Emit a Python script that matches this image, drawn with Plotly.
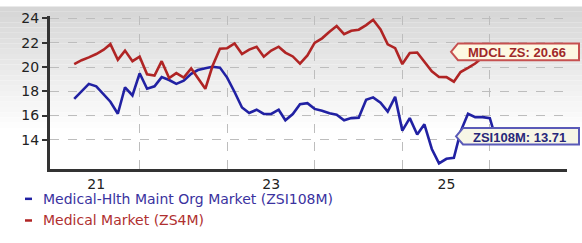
import plotly.graph_objects as go
import pandas as pd

# ---- data ----
months = pd.date_range("2020-10-01", "2025-08-01", freq="MS")

hmo_values = [17.38, 18.02, 18.61, 18.41, 17.74, 17.14, 16.15, 18.33, 17.66, 19.48,
              18.21, 18.41, 19.17, 18.93, 18.61, 18.87, 19.44, 19.75, 19.90, 20.02,
              19.95, 19.13, 17.94, 16.67, 16.21, 16.48, 16.13, 16.13, 16.48, 15.61,
              16.13, 16.94, 17.02, 16.55, 16.40, 16.19, 16.07, 15.61, 15.79, 15.83,
              17.30, 17.50, 17.06, 16.33, 17.54, 14.76, 15.79, 14.44, 15.28, 13.25,
              12.06, 12.44, 12.52, 14.68, 16.15, 15.87, 15.87, 15.79, 13.71]

medical_values = [20.24, 20.56, 20.79, 21.07, 21.43, 21.88, 20.60, 21.35, 20.48, 20.85,
                  19.40, 19.29, 20.48, 19.09, 19.50, 19.13, 19.88, 19.05, 18.20, 20.08,
                  21.51, 21.55, 21.94, 21.07, 21.43, 21.67, 20.85, 21.35, 21.67, 21.19,
                  20.87, 20.28, 20.95, 21.98, 22.36, 22.90, 23.37, 22.70, 22.98, 23.07,
                  23.45, 23.89, 23.10, 21.87, 21.55, 20.24, 21.15, 21.19, 20.40, 19.64,
                  19.18, 19.17, 18.79, 19.58, 19.92, 20.29, 20.80, 20.72, 20.66]

series_names = ["Medical-Hlth Maint Org Market (ZSI108M)", "Medical Market (ZS4M)"]
end_labels = ["ZSI108M", "MDCL ZS"]
year_ticks = ["2021-01-01", "2023-01-01", "2025-01-01"]
year_labels = ["21", "23", "25"]
grid_dates = ["2021-07-01", "2022-07-01", "2023-07-01", "2024-07-01", "2025-07-01"]
y_ticks = [14, 16, 18, 20, 22, 24]

BLUE = "#2121a3"
RED = "#b02424"

fig = go.Figure()
fig.add_trace(go.Scatter(x=months, y=hmo_values, mode="lines", name=series_names[0],
                         line=dict(color=BLUE, width=2.6), showlegend=False))
fig.add_trace(go.Scatter(x=months, y=medical_values, mode="lines", name=series_names[1],
                         line=dict(color=RED, width=2.6), showlegend=False))

W, H = 582, 243
L, R, T, B = 50, 567, 10, 169


def px(xp):
    return (xp - L) / (R - L)


def py(yp):
    return (B - yp) / (B - T)


shapes = []
# background gradient (top gray to white)
n = 24
for k in range(n):
    y0 = k * 5.5
    y1 = (k + 1) * 5.5
    c = int(0xd6 + (0xff - 0xd6) * k / (n - 1))
    shapes.append(dict(type="rect", xref="paper", yref="paper", layer="below",
                       x0=px(0), x1=px(W), y0=py(y1), y1=py(y0),
                       fillcolor=f"rgb({c},{c},{c})", line=dict(width=0)))


def tag(tip_x, top, bot, right, fill, border):
    mid = (top + bot) / 2
    body = tip_x + 7
    path = (f"M {px(tip_x)},{py(mid)} L {px(body)},{py(top)} L {px(right)},{py(top)} "
            f"L {px(right)},{py(bot)} L {px(body)},{py(bot)} Z")
    return dict(type="path", xref="paper", yref="paper", path=path,
                fillcolor=fill, line=dict(color=border, width=2), layer="above")


shapes.append(tag(451, 38.5, 56, 579, "#fdf8e2", "#c65050"))
shapes.append(tag(456, 126.5, 143.5, 579, "#f7f6e6", "#5a5ab8"))

# legend dashes
shapes.append(dict(type="line", xref="paper", yref="paper", x0=px(25), x1=px(32),
                   y0=py(200), y1=py(200), line=dict(color=BLUE, width=2.5)))
shapes.append(dict(type="line", xref="paper", yref="paper", x0=px(25), x1=px(32),
                   y0=py(222.5), y1=py(222.5), line=dict(color=RED, width=2.5)))

annotations = [
    dict(xref="paper", yref="paper", x=px(517), y=py(48), xanchor="center", yanchor="middle",
         text=f"<b>{end_labels[1]}: {medical_values[-1]:.2f}</b>", showarrow=False,
         font=dict(family="Liberation Sans, Arial", size=13, color="#a02828")),
    dict(xref="paper", yref="paper", x=px(519), y=py(136), xanchor="center", yanchor="middle",
         text=f"<b>{end_labels[0]}: {hmo_values[-1]:.2f}</b>", showarrow=False,
         font=dict(family="Liberation Sans, Arial", size=13, color="#28287a")),
    dict(xref="paper", yref="paper", x=px(41), y=py(200), xanchor="left", yanchor="middle",
         text=series_names[0], showarrow=False,
         font=dict(family="DejaVu Sans", size=14, color="#3a32a0")),
    dict(xref="paper", yref="paper", x=px(41), y=py(222.5), xanchor="left", yanchor="middle",
         text=series_names[1], showarrow=False,
         font=dict(family="DejaVu Sans", size=14, color="#b03030")),
]

fig.update_layout(
    width=W, height=H,
    margin=dict(l=L, r=W - R, t=T, b=H - B, pad=0),
    paper_bgcolor="white",
    plot_bgcolor="rgba(0,0,0,0)",
    shapes=shapes,
    annotations=annotations,
    font=dict(family="DejaVu Sans", size=14, color="#222"),
    xaxis=dict(
        type="date",
        range=["2020-06-22", "2026-05-19"],
        tickmode="array", tickvals=year_ticks, ticktext=year_labels,
        showgrid=False, ticks="", zeroline=False,
        showline=True, linecolor="#333", linewidth=3,
        tickfont=dict(size=14, color="#222"),
        minor=dict(tickmode="array", tickvals=grid_dates, showgrid=True,
                   gridcolor="#bdbdbd", griddash="dash", gridwidth=1, ticks=""),
    ),
    yaxis=dict(
        range=[11.6, 24.2],
        tickmode="array", tickvals=y_ticks,
        showgrid=True, gridcolor="#bdbdbd", griddash="dash", gridwidth=1,
        ticks="outside", ticklen=5, tickwidth=2, tickcolor="#333",
        zeroline=False, showline=True, linecolor="#333", linewidth=3,
        tickfont=dict(size=14, color="#222"),
    ),
)

fig.write_html("out.html")
